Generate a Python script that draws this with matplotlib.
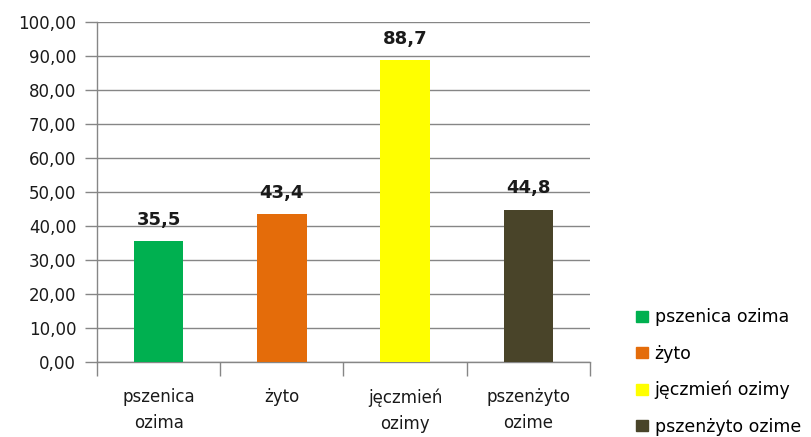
import matplotlib.pyplot as plt
import numpy as np
from matplotlib.patches import Patch

plt.rcParams['font.family'] = ['DejaVu Sans']

kategorie = ['pszenica ozima', 'żyto', 'jęczmień ozimy', 'pszenżyto ozime']
etykiety_osi = ['pszenica\nozima', 'żyto', 'jęczmień\nozimy', 'pszenżyto\nozime']
wartosci = [35.5, 43.4, 88.7, 44.8]
kolory = ['#00B050', '#E46C0A', '#FFFF00', '#494429']

fig = plt.figure(figsize=(8.11, 4.37), dpi=100)
ax = fig.add_axes([0.1196, 0.1716, 0.6079, 0.7781])

x = np.arange(len(kategorie))
ax.bar(x, wartosci, width=0.4, color=kolory, zorder=3)
for xi, v in zip(x, wartosci):
    ax.text(xi, v + 3.6, f'{v:.1f}'.replace('.', ','), ha='center', va='bottom',
            fontsize=13, fontweight='bold', color='#1a1a1a')

ax.set_xlim(-0.5, len(kategorie) - 0.5)
ax.set_ylim(0, 100)
ax.set_yticks(np.arange(0, 101, 10))
ax.set_yticklabels([f'{t:.2f}'.replace('.', ',') for t in np.arange(0, 101, 10)],
                   fontsize=12, color='#1a1a1a')
ax.set_xticks(x)
ax.set_xticklabels(etykiety_osi, fontsize=12, color='#1a1a1a', linespacing=1.55)
ax.set_xticks(np.arange(-0.5, len(kategorie), 1), minor=True)
ax.tick_params(axis='x', which='major', length=0, pad=19)
ax.tick_params(axis='x', which='minor', length=10, color='#868686', width=1)
ax.tick_params(axis='y', length=9, color='#868686', width=1, pad=6)

ax.grid(axis='y', color='#868686', linewidth=1, zorder=0)
for s in ['top', 'right']:
    ax.spines[s].set_visible(False)
for s in ['left', 'bottom']:
    ax.spines[s].set_color('#868686')
    ax.spines[s].set_linewidth(1)

uchwyty = [Patch(color=c) for c in kolory]
fig.legend(uchwyty, kategorie, loc='upper left', bbox_to_anchor=(0.776, 0.31),
           frameon=False, fontsize=12.5, handlelength=0.65, handleheight=0.65,
           handletextpad=0.4, labelspacing=1.05, borderaxespad=0)

fig.savefig('out.png', dpi=100)
